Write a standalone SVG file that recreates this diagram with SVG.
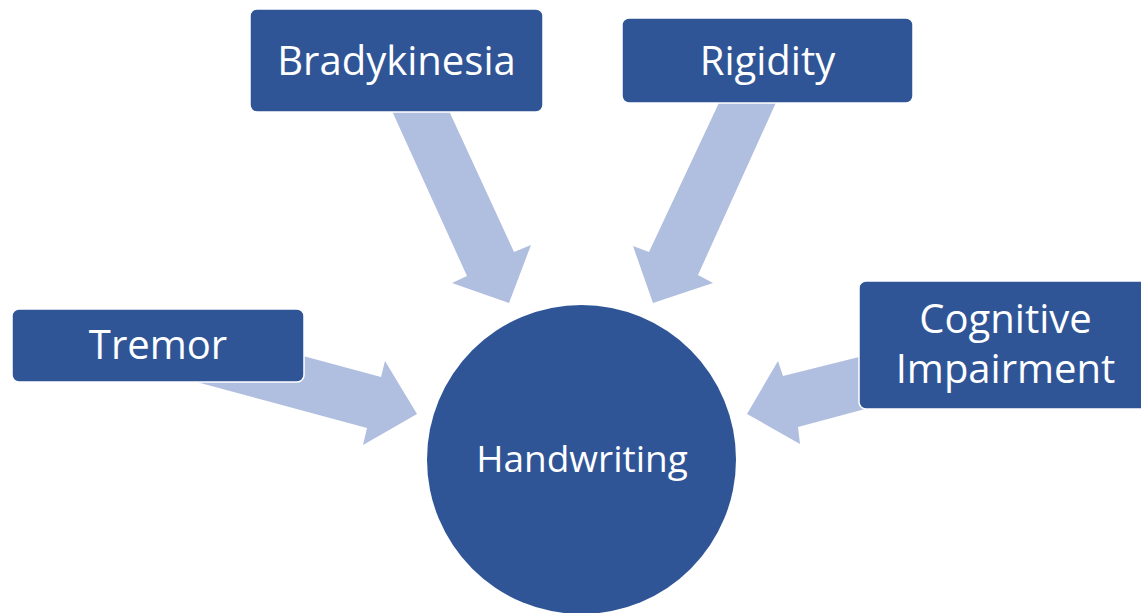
<svg xmlns="http://www.w3.org/2000/svg" width="1141" height="613" viewBox="0 0 1141 613">
<style>
.box{fill:#2F5597;stroke:#FFFFFF;stroke-width:1.5}
.arrow{fill:#B0BEDF}
.lbl{font-family:"Open Sans","Noto Sans",sans-serif;font-size:40px;fill:#FFFFFF;text-anchor:middle}
</style>
<rect width="1141" height="613" fill="#FFFFFF"/>
<g id="connectors">
<polygon class="arrow" points="387,100 444,100 514,252 531,245 509,303 452,283 467,276"/>
<polygon class="arrow" points="722.6,95 779.4,95 698,275 713,283 653,303 633,246 649,252"/>
<polygon class="arrow" points="203.8,329.2 381,377 385,361 417,414 363,445 367,428 190,380.3"/>
<polygon class="arrow" points="880,351.8 783,376 778,361 747,414 800,444 798,427 880,404.9"/>
</g>
<g id="node-handwriting">
<circle cx="581.5" cy="459.5" r="154.5" fill="#2F5597"/>
<text class="lbl" x="582" y="472" style="font-size:37px">Handwriting</text>
</g>
<g id="node-bradykinesia">
<rect class="box" x="250" y="9" width="293" height="103" rx="7"/>
<text class="lbl" x="396.5" y="75">Bradykinesia</text>
</g>
<g id="node-rigidity">
<rect class="box" x="622" y="18" width="291" height="85" rx="7"/>
<text class="lbl" x="767.5" y="75">Rigidity</text>
</g>
<g id="node-tremor">
<rect class="box" x="12" y="309" width="292" height="73" rx="7"/>
<text class="lbl" x="158" y="359">Tremor</text>
</g>
<g id="node-cognitive">
<rect class="box" x="859" y="281" width="290" height="128" rx="7"/>
<text class="lbl" x="1005.5" y="333">Cognitive</text>
<text class="lbl" x="1005.5" y="383">Impairment</text>
</g>
</svg>
